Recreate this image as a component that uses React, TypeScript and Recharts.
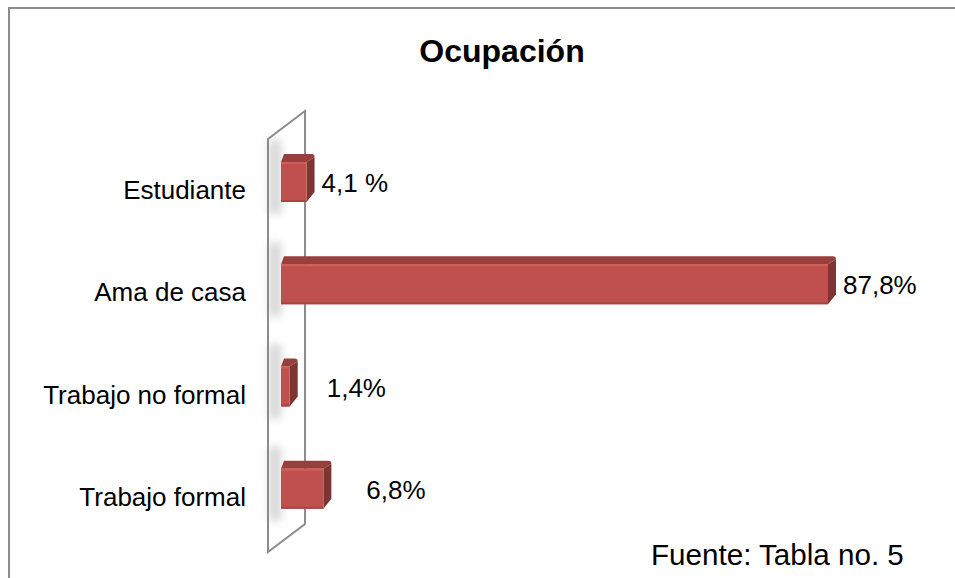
import React from 'react';
import { BarChart, Bar, XAxis, YAxis, ReferenceArea, LabelList } from 'recharts';

const categories = ['Estudiante', 'Ama de casa', 'Trabajo no formal', 'Trabajo formal'];
const percents = [4.1, 87.8, 1.4, 6.8];
const percentLabels = ['4,1 %', '87,8%', '1,4%', '6,8%'];

// labels that were nudged by hand in the original
const labelNudge = [0, 0, 22, 28];

const FONT = "'Liberation Sans', Arial, sans-serif";
const DEPTH = 8;

const data = categories.map((name, i) => ({ name, value: percents[i], label: percentLabels[i] }));

const Bar3D = (props: any) => {
  const { x, y, width, height } = props;
  if (width == null || height == null) return null;
  const d = DEPTH;
  const w = Math.max(width, 2);
  return (
    <g>
      <rect x={x - 12} y={y - 14} width={12} height={height + 26} fill="#8a8a8a" opacity={0.35} filter="url(#wallShadow)" />
      <path
        d={`M${x},${y + d} L${x + 3},${y} L${x + w + d - 3},${y} Q${x + w + d},${y} ${x + w + d},${y + 3} L${x + w},${y + d} Z`}
        fill="#963f3d"
      />
      <path
        d={`M${x + w},${y + d} L${x + w + d},${y + 3} L${x + w + d},${y + height - d - 2} L${x + w},${y + height} Z`}
        fill="#7e3432"
      />
      <rect x={x} y={y + d} width={w} height={height - d} fill="#c0504d" />
      <rect x={x} y={y + d} width={w} height={2} fill="#d25e5a" />
      <rect x={x} y={y + height - 2} width={w} height={2} fill="#a84542" />
    </g>
  );
};

const Wall = (props: any) => {
  const { x, y, height } = props;
  if (x == null || y == null) return null;
  const L = x - 13;
  const R = x + 24;
  const top = y;
  const bottom = y + height;
  return (
    <g>
      <defs>
        <filter id="wallShadow" x="-100%" y="-50%" width="300%" height="200%">
          <feGaussianBlur stdDeviation="4" />
        </filter>
      </defs>
      <polygon
        points={`${L},${top + 12} ${R},${top - 16} ${R},${bottom - 12} ${L},${bottom + 16}`}
        fill="#ffffff"
        stroke="#8c8c8c"
        strokeWidth={2}
      />
    </g>
  );
};

const CategoryTick = (props: any) => {
  const { x, y, payload } = props;
  return (
    <text x={x} y={y} dy={21} textAnchor="end" fontFamily={FONT} fontSize={26} fill="#000">
      {payload.value}
    </text>
  );
};

const ValueLabel = (props: any) => {
  const { x, y, width, height, index, value } = props;
  return (
    <text
      x={x + width + DEPTH + 7 + labelNudge[index]}
      y={y + height / 2}
      dy={14}
      fontFamily={FONT}
      fontSize={26}
      fill="#000"
    >
      {value}
    </text>
  );
};

export default function App() {
  return (
    <div style={{ position: 'absolute', left: 0, top: 0, width: 955, height: 578, overflow: 'hidden', background: '#fff' }}>
      <div
        style={{
          position: 'absolute',
          left: 8,
          top: 7,
          width: 1000,
          height: 650,
          borderLeft: '2px solid #8c8c8c',
          borderTop: '2px solid #8c8c8c',
        }}
      />
      <div
        style={{
          position: 'absolute',
          left: 0,
          width: 1004,
          top: 29,
          textAlign: 'center',
          fontFamily: FONT,
          fontWeight: 'bold',
          fontSize: 32,
          color: '#000',
          lineHeight: '44px',
        }}
      >
        Ocupación
      </div>
      <div style={{ position: 'absolute', left: 651, top: 537, fontFamily: FONT, fontSize: 29.6, color: '#000', lineHeight: '36px' }}>
        Fuente: Tabla no. 5
      </div>
      <div style={{ position: 'absolute', left: 0, top: 0 }}>
        <BarChart
          width={955}
          height={578}
          data={data}
          layout="vertical"
          margin={{ top: 127, right: 51, bottom: 42, left: 0 }}
          barSize={48}
        >
          <XAxis type="number" domain={[0, 100]} hide />
          <YAxis
            type="category"
            dataKey="name"
            width={281}
            axisLine={false}
            tickLine={false}
            tickSize={0}
            tickMargin={35}
            tick={<CategoryTick />}
            interval={0}
          />
          <ReferenceArea x1={0} x2={1} ifOverflow="visible" shape={<Wall />} />
          <Bar dataKey="value" shape={<Bar3D />} isAnimationActive={false}>
            <LabelList dataKey="label" content={<ValueLabel />} />
          </Bar>
        </BarChart>
      </div>
    </div>
  );
}
